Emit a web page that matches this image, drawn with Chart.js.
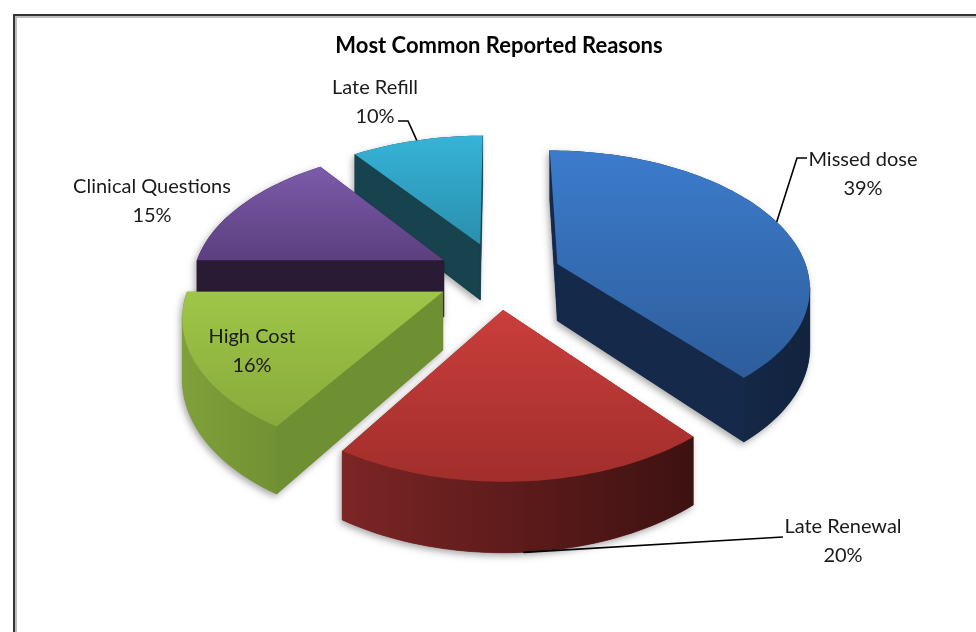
<!DOCTYPE html>
<html>
<head>
<meta charset="utf-8">
<script src="https://cdn.jsdelivr.net/npm/chart.js@4.4.1/dist/chart.umd.min.js"></script>
<style>
    html, body { margin: 0; padding: 0; background: #fff; }
    canvas { display: block; }
</style>
</head>
<body>
<canvas id="chart-reasons" width="976" height="632"></canvas>
<script>
const reasons = ['Missed dose', 'Late Renewal', 'High Cost', 'Clinical Questions', 'Late Refill'];
const shares = [39, 20, 16, 15, 10];
const shareLabels = ['39%', '20%', '16%', '15%', '10%'];

// top face gradient (light -> dark), cut faces, outer wall gradient
const topColors = [['#3c7ccc', '#2d5d9b'], ['#ca3e3c', '#a12e2b'], ['#9fc648', '#88aa3b'], ['#7c5aaa', '#5b3f7f'], ['#36b3d7', '#2a8fae']];
const cutColors = ['#15294a', '#661c1c', '#6f8f33', '#2a1b35', '#17434f'];
const wallColors = [['#1b3459', '#12233f'], ['#7c2525', '#3e1111'], ['#7fa03a', '#5b7727'], ['#3a2646', '#241630'], ['#1e5565', '#143a45']];

// view of the tilted pie: horizontal / vertical scale per radius, perspective, wall height
const VIEW = { sx: 1.31, sy: 0.698, persp: 0.152, depth: 0.30 };

const labelSpots = [
    { x: 863, y: 160, path: [[807, 158], [797, 158]] },
    { x: 843, y: 527, path: [[783, 537]], fromBottom: true },
    { x: 252, y: 337 },
    { x: 152, y: 187 },
    { x: 375, y: 88, path: [[398, 121], [408, 121]] },
];

function project(s, u, v, h) {
    const k = 1 / (1 - VIEW.persp * v);
    return [
        s.x + VIEW.sx * s.outerRadius * u * k,
        s.y + (VIEW.sy * v + VIEW.depth * h) * s.outerRadius * k,
    ];
}

function polygon(ctx, pts) {
    ctx.moveTo(pts[0][0], pts[0][1]);
    for (let j = 1; j < pts.length; j++) {
        ctx.lineTo(pts[j][0], pts[j][1]);
    }
    ctx.closePath();
}

function getSlices(chart) {
    const meta = chart.getDatasetMeta(0);
    return meta.data.map((arc, i) => {
        const p = arc.getProps(['x', 'y', 'startAngle', 'endAngle', 'outerRadius']);
        const mid = (p.startAngle + p.endAngle) / 2;
        const d = arc.options.offset / p.outerRadius;
        return { i, ...p, mid, ou: d * Math.cos(mid), ov: d * Math.sin(mid) };
    });
}

const pie3d = {
    id: 'pie3d',
    beforeDraw(chart) {
        const ctx = chart.ctx;
        ctx.save();
        ctx.fillStyle = '#fff';
        ctx.fillRect(0, 0, chart.width, chart.height);
        // frame
        ctx.strokeStyle = '#bdbdbd';
        ctx.lineWidth = 2;
        ctx.beginPath();
        ctx.moveTo(16, chart.height);
        ctx.lineTo(16, 17);
        ctx.lineTo(chart.width, 17);
        ctx.stroke();
        ctx.strokeStyle = '#333';
        ctx.lineWidth = 2;
        ctx.beginPath();
        ctx.moveTo(14, chart.height);
        ctx.lineTo(14, 15);
        ctx.lineTo(chart.width, 15);
        ctx.stroke();
        ctx.restore();
    },
    beforeDatasetsDraw(chart) {
        const ctx = chart.ctx;
        const camV = 1 / VIEW.persp;
        const slices = getSlices(chart).sort((a, b) => a.ov - b.ov);

        slices.forEach((s) => {
            const a0 = s.startAngle;
            const a1 = s.endAngle;
            const n = Math.max(12, Math.ceil((a1 - a0) / (Math.PI / 120)));
            const rim = (a, h) => project(s, s.ou + Math.cos(a), s.ov + Math.sin(a), h);
            const apex = (h) => project(s, s.ou, s.ov, h);

            const topPts = [apex(0)];
            for (let k = 0; k <= n; k++) {
                topPts.push(rim(a0 + (a1 - a0) * k / n, 0));
            }

            const faces = [];
            // cut face at start angle
            if (-s.ou * Math.sin(a0) - (camV - s.ov) * Math.cos(a0) > 0) {
                faces.push({ pts: [apex(0), rim(a0, 0), rim(a0, 1), apex(1)], cut: true });
            }
            // cut face at end angle
            if (s.ou * Math.sin(a1) + (camV - s.ov) * Math.cos(a1) > 0) {
                faces.push({ pts: [apex(0), rim(a1, 0), rim(a1, 1), apex(1)], cut: true });
            }
            // outer wall, in visible runs
            let run = null;
            for (let k = 0; k < n; k++) {
                const a = a0 + (a1 - a0) * (k + 0.5) / n;
                const vis = -(s.ou + Math.cos(a)) * Math.cos(a) + (camV - s.ov - Math.sin(a)) * Math.sin(a) > 0;
                if (vis) {
                    if (!run) run = [k, k];
                    run[1] = k;
                }
                if ((!vis || k === n - 1) && run) {
                    const up = [];
                    const down = [];
                    for (let m = run[0]; m <= run[1] + 1; m++) {
                        const am = a0 + (a1 - a0) * m / n;
                        up.push(rim(am, 0));
                        down.unshift(rim(am, 1));
                    }
                    faces.push({ pts: up.concat(down), cut: false });
                    run = null;
                }
            }

            const all = faces.flatMap((f) => f.pts).concat(topPts);
            const xs = all.map((p) => p[0]);
            const minX = Math.min(...xs), maxX = Math.max(...xs);
            const topYs = topPts.map((p) => p[1]);

            // soft shadow of the whole slice
            ctx.save();
            ctx.shadowColor = 'rgba(0,0,0,0.35)';
            ctx.shadowBlur = 7;
            ctx.shadowOffsetX = -2;
            ctx.shadowOffsetY = 3;
            ctx.fillStyle = cutColors[s.i];
            ctx.beginPath();
            faces.forEach((f) => polygon(ctx, f.pts));
            polygon(ctx, topPts);
            ctx.fill();
            ctx.restore();

            faces.forEach((f) => {
                ctx.beginPath();
                polygon(ctx, f.pts);
                if (f.cut) {
                    ctx.fillStyle = cutColors[s.i];
                } else {
                    const g = ctx.createLinearGradient(minX, 0, maxX, 0);
                    g.addColorStop(0, wallColors[s.i][0]);
                    g.addColorStop(1, wallColors[s.i][1]);
                    ctx.fillStyle = g;
                }
                ctx.fill();
                ctx.strokeStyle = ctx.fillStyle;
                ctx.lineWidth = 0.6;
                ctx.stroke();
            });

            const g = ctx.createLinearGradient(0, Math.min(...topYs), 0, Math.max(...topYs));
            g.addColorStop(0, topColors[s.i][0]);
            g.addColorStop(1, topColors[s.i][1]);
            ctx.beginPath();
            polygon(ctx, topPts);
            ctx.fillStyle = g;
            ctx.fill();
        });
        return false;
    },
    afterDraw(chart) {
        const ctx = chart.ctx;
        const slices = getSlices(chart);
        ctx.save();
        ctx.font = '20px Lato, "Liberation Sans", sans-serif';
        ctx.fillStyle = '#1a1a1a';
        ctx.textAlign = 'center';
        ctx.textBaseline = 'middle';
        labelSpots.forEach((spot, i) => {
            ctx.fillText(reasons[i], spot.x, spot.y);
            ctx.fillText(shareLabels[i], spot.x, spot.y + 29);
            if (spot.path) {
                const s = slices[i];
                const end = project(s, s.ou + Math.cos(s.mid), s.ov + Math.sin(s.mid), spot.fromBottom ? 1 : 0);
                ctx.strokeStyle = '#000';
                ctx.lineWidth = 1.6;
                ctx.beginPath();
                ctx.moveTo(spot.path[0][0], spot.path[0][1]);
                spot.path.slice(1).forEach((p) => ctx.lineTo(p[0], p[1]));
                ctx.lineTo(end[0], end[1]);
                ctx.stroke();
            }
        });
        ctx.restore();
    },
};

new Chart(document.getElementById('chart-reasons').getContext('2d'), {
    type: 'pie',
    data: {
        labels: reasons,
        datasets: [{
            data: shares,
            backgroundColor: topColors.map((c) => c[0]),
            borderWidth: 0,
            offset: 48,
        }],
    },
    options: {
        responsive: false,
        animation: false,
        devicePixelRatio: 1,
        layout: {
            padding: { left: 40, right: 18, top: 8, bottom: 141 },
        },
        plugins: {
            legend: { display: false },
            tooltip: { enabled: false },
            title: {
                display: true,
                text: 'Most Common Reported Reasons',
                color: '#000',
                font: { family: 'Lato', size: 22, weight: 'bold' },
                padding: { top: 25, bottom: 0 },
            },
        },
    },
    plugins: [pie3d],
});
</script>
</body>
</html>
